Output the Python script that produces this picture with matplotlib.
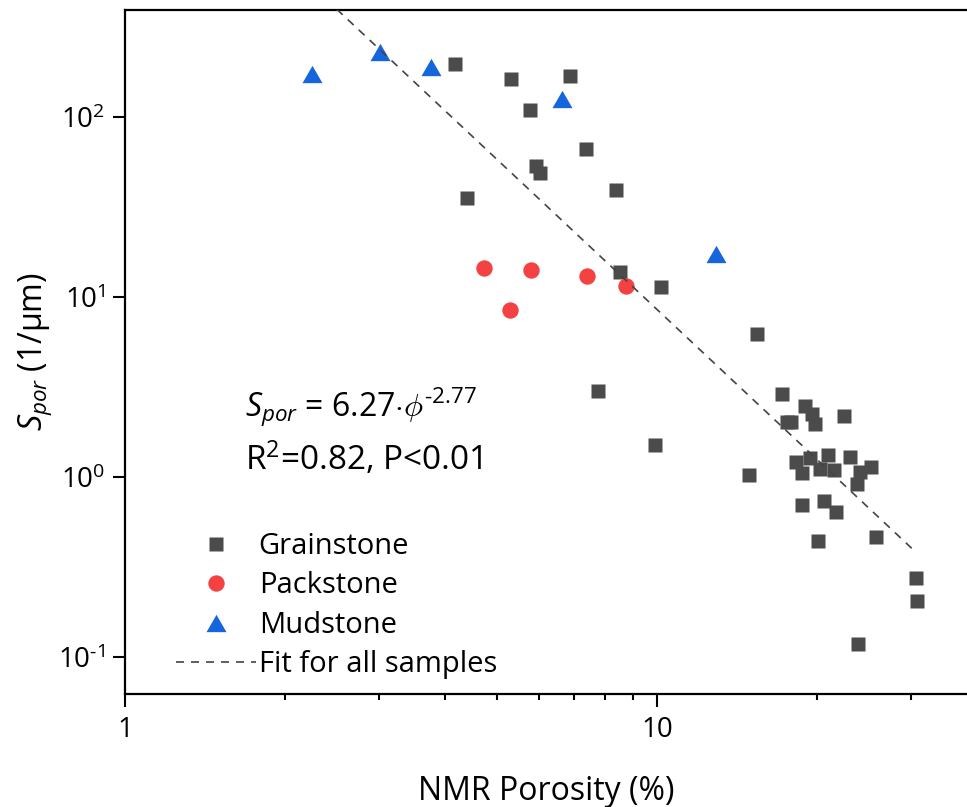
import numpy as np
import matplotlib
matplotlib.use('Agg')
from matplotlib import pyplot as plt
from matplotlib import ticker

plt.rcParams['font.family'] = ['Open Sans', 'DejaVu Sans']
plt.rcParams['mathtext.fontset'] = 'custom'
plt.rcParams['mathtext.rm'] = 'Open Sans'
plt.rcParams['mathtext.it'] = 'Open Sans:italic'
plt.rcParams['lines.scale_dashes'] = False
plt.rcParams['axes.unicode_minus'] = False

# Grainstone samples (NMR porosity %, S_por 1/um)
grain_x = [4.18, 5.31, 6.87, 5.78, 7.37, 5.92, 6.03, 4.39, 8.38, 8.53,
           10.2, 7.74, 9.93, 15.42, 17.21, 18.97, 19.55, 19.81, 17.56, 17.84,
           22.44, 14.89, 18.28, 19.39, 18.74, 21.0, 20.28, 21.55, 23.1, 25.3,
           24.12, 23.77, 18.76, 20.66, 21.74, 20.13, 25.85, 30.68, 30.88, 23.84]
grain_y = [197, 163, 168, 110, 66.1, 53.4, 49.0, 35.4, 39.4, 13.7,
           11.3, 2.99, 1.50, 6.26, 2.90, 2.47, 2.25, 1.97, 2.03, 2.03,
           2.19, 1.02, 1.218, 1.274, 1.058, 1.324, 1.113, 1.10, 1.287, 1.143,
           1.062, 0.915, 0.699, 0.739, 0.636, 0.441, 0.462, 0.2745, 0.205, 0.1187]

# Packstone samples
pack_x = [4.74, 5.80, 5.30, 7.38, 8.74]
pack_y = [14.45, 14.08, 8.43, 13.16, 11.5]

# Mudstone samples
mud_x = [2.247, 3.018, 3.764, 6.63, 12.93]
mud_y = [173.5, 230, 190, 126, 17.35]

# power-law fit for all samples
fit_a = 5030.0
fit_b = -2.77
fit_xrange = [2.25, 30.3]

c_grain = '#4b4b4b'
c_pack = '#f44242'
c_mud = '#1566dc'
tri = [(-1, -0.866), (1, -0.866), (0, 0.866)]
HY = '\u2010'  # short hyphen used for negative exponents


def yfmt(v, p):
    e = int(round(np.log10(v)))
    s = str(e).replace('-', HY)
    return '$10^{%s}$' % s


fig = plt.figure(figsize=(9.67, 8.07), dpi=100)
ax = fig.add_axes([0.1293, 0.140, 0.8707, 0.8476])

fx = np.logspace(np.log10(fit_xrange[0]), np.log10(fit_xrange[1]), 100)
ax.plot(fx, fit_a * fx ** fit_b, color='#444444', lw=1.2, dashes=(5.8, 5),
        label='Fit for all samples', zorder=3)
ax.plot(grain_x, grain_y, 's', ms=10.6, color=c_grain, mec='none',
        label='Grainstone', zorder=2)
ax.plot(pack_x, pack_y, 'o', ms=11.8, color=c_pack, mec='none',
        label='Packstone', zorder=2)
ax.plot(mud_x, mud_y, marker=tri, ls='none', ms=14.4, color=c_mud, mec='none',
        label='Mudstone', zorder=2)

ax.set_xscale('log')
ax.set_yscale('log')
ax.set_xlim(1, 38.3)
ax.set_ylim(0.0623, 393)

ax.xaxis.set_major_locator(ticker.FixedLocator([1, 10]))
ax.xaxis.set_major_formatter(ticker.FuncFormatter(lambda v, p: '%g' % v))
ax.xaxis.set_minor_locator(ticker.LogLocator(base=10, subs=np.arange(2, 10)))
ax.xaxis.set_minor_formatter(ticker.NullFormatter())
ax.yaxis.set_major_locator(ticker.LogLocator(base=10, numticks=10))
ax.yaxis.set_major_formatter(ticker.FuncFormatter(yfmt))
ax.yaxis.set_minor_locator(ticker.NullLocator())

ax.tick_params(which='major', length=9, width=1.5, labelsize=20, pad=5)
ax.tick_params(which='minor', length=4.5, width=1.5)
ax.tick_params(axis='x', which='major', pad=7)
for s in ['left', 'top', 'bottom']:
    ax.spines[s].set_linewidth(1.6)
ax.spines['right'].set_visible(False)

ax.set_xlabel('NMR Porosity (%)', fontsize=23)
ax.xaxis.set_label_coords(0.5, -0.118)
ax.set_ylabel('$S_{por}$ (1/μm)', fontsize=23)
ax.yaxis.set_label_coords(-0.084, 0.5)

ax.text(0.143, 0.405, '$S_{por}$ = 6.27$\\cdot\\phi^{%s2.77}$' % HY, transform=ax.transAxes,
        fontsize=23, ha='left', va='baseline')
ax.text(0.143, 0.328, r'R$^2$=0.82, P<0.01', transform=ax.transAxes,
        fontsize=24, ha='left', va='baseline')

h, l = ax.get_legend_handles_labels()
order = [1, 2, 3, 0]
ax.legend([h[i] for i in order], [l[i] for i in order], loc='upper left',
          bbox_to_anchor=(0.06, 0.237), frameon=False, fontsize=21,
          handlelength=2.75, handletextpad=0.1, labelspacing=0.36,
          borderpad=0, borderaxespad=0)

fig.savefig('out.png', dpi=100)
